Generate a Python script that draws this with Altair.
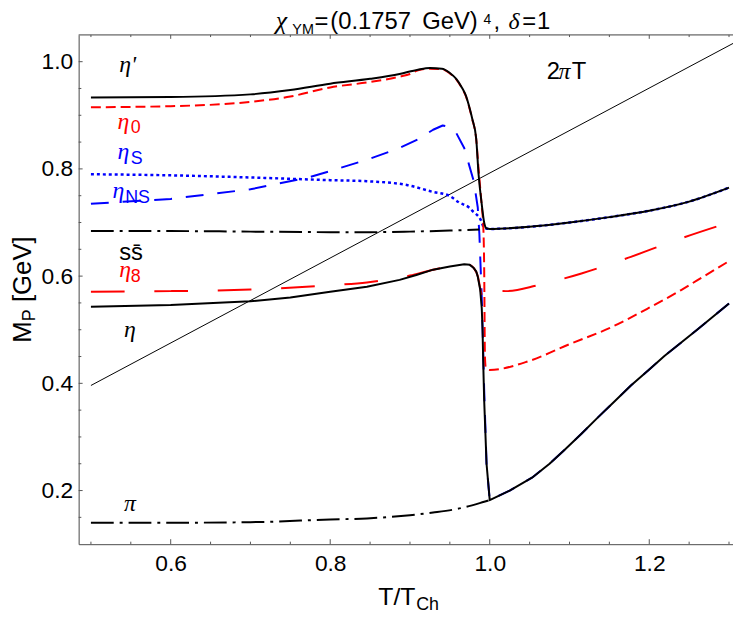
import altair as alt
import pandas as pd

# ---------------- data ----------------
x_etap = [0.5, 0.6, 0.7, 0.75, 0.8, 0.85, 0.887, 0.91, 0.925, 0.94, 0.95, 0.958, 0.965, 0.97,
          0.975, 0.978, 0.983, 0.986, 0.99, 0.993, 0.996, 1.0, 1.05, 1.1, 1.15, 1.2, 1.25, 1.3]
y_etap = [0.933, 0.934, 0.939, 0.947, 0.959, 0.968, 0.977, 0.985, 0.988, 0.987, 0.979, 0.968, 0.952, 0.937,
          0.912, 0.894, 0.857, 0.790, 0.734, 0.700, 0.689, 0.688, 0.692, 0.700, 0.710, 0.722, 0.739, 0.765]

x_eta0 = [0.5, 0.6, 0.7, 0.75, 0.8, 0.85, 0.887, 0.9, 0.91, 0.925, 0.94, 0.95, 0.958, 0.965, 0.97,
          0.975, 0.978, 0.983, 0.986, 0.99, 0.992, 0.993, 0.994, 0.995, 1.0, 1.05, 1.1, 1.15, 1.2, 1.24, 1.26, 1.3]
y_eta0 = [0.915, 0.917, 0.925, 0.935, 0.952, 0.962, 0.972, 0.977, 0.984, 0.987, 0.986, 0.978, 0.967, 0.951, 0.936,
          0.911, 0.893, 0.856, 0.800, 0.730, 0.690, 0.620, 0.450, 0.430, 0.425, 0.442, 0.473, 0.503, 0.541, 0.574, 0.592, 0.628]

x_etaS = [0.5, 0.6, 0.7, 0.77, 0.8, 0.846, 0.887, 0.91, 0.929, 0.941, 0.95, 0.958, 0.968, 0.974, 0.98,
          0.985, 0.987, 0.989, 0.990, 0.992, 0.993, 0.996, 1.0, 1.025, 1.053, 1.075, 1.094, 1.115, 1.136,
          1.157, 1.177, 1.2, 1.219, 1.26, 1.3]
y_etaS = [0.735, 0.744, 0.762, 0.783, 0.796, 0.817, 0.839, 0.855, 0.873, 0.881, 0.878, 0.867, 0.839, 0.808, 0.777,
          0.728, 0.679, 0.600, 0.560, 0.450, 0.390, 0.250, 0.182, 0.200, 0.224, 0.250, 0.276, 0.306, 0.337,
          0.367, 0.396, 0.426, 0.451, 0.500, 0.549]

x_etaNS = [0.5, 0.6, 0.7, 0.8, 0.846, 0.896, 0.929, 0.949, 0.962, 0.974, 0.978, 0.989, 0.993, 1.0,
           1.05, 1.1, 1.15, 1.2, 1.25, 1.3]
y_etaNS = [0.790, 0.788, 0.784, 0.779, 0.777, 0.770, 0.757, 0.750, 0.737, 0.728, 0.722, 0.704, 0.690, 0.688,
           0.692, 0.700, 0.710, 0.722, 0.739, 0.765]

x_ss = [0.5, 0.6, 0.7, 0.8, 0.85, 0.9, 0.95, 0.987]
y_ss = [0.684, 0.684, 0.683, 0.682, 0.682, 0.683, 0.685, 0.687]

x_eta8 = [0.5, 0.6, 0.7, 0.77, 0.8, 0.846, 0.87, 0.9, 0.929, 0.95, 0.968, 0.975, 0.98, 0.985,
          0.990, 0.993, 0.996, 1.0, 1.02, 1.06, 1.115, 1.177, 1.239, 1.3]
y_eta8 = [0.571, 0.572, 0.575, 0.580, 0.583, 0.588, 0.593, 0.601, 0.612, 0.618, 0.622, 0.621, 0.615, 0.600,
          0.565, 0.560, 0.577, 0.574, 0.572, 0.583, 0.605, 0.636, 0.670, 0.700]

x_eta = [0.5, 0.6, 0.7, 0.75, 0.8, 0.846, 0.887, 0.908, 0.929, 0.95, 0.968, 0.975, 0.98, 0.983, 0.985,
         0.988, 0.990, 0.991, 0.992, 0.993, 0.996, 1.0, 1.025, 1.053, 1.075, 1.094, 1.115, 1.136,
         1.157, 1.177, 1.2, 1.219, 1.26, 1.3]
y_eta = [0.543, 0.546, 0.553, 0.560, 0.571, 0.580, 0.593, 0.602, 0.612, 0.618, 0.622, 0.621, 0.615, 0.609, 0.599,
         0.575, 0.540, 0.500, 0.430, 0.370, 0.250, 0.182, 0.200, 0.224, 0.250, 0.276, 0.306, 0.337,
         0.367, 0.396, 0.426, 0.451, 0.500, 0.549]

x_pi = [0.5, 0.6, 0.7, 0.8, 0.846, 0.9, 0.929, 0.96, 0.993, 1.0]
y_pi = [0.140, 0.140, 0.141, 0.146, 0.148, 0.154, 0.159, 0.166, 0.179, 0.182]

x_2piT = [0.5, 1.305]
y_2piT = [0.396, 1.034]

x_major = [0.6, 0.8, 1.0, 1.2]
x_minor = [0.5, 0.55, 0.65, 0.7, 0.75, 0.85, 0.9, 0.95, 1.05, 1.1, 1.15, 1.25, 1.3]
y_major = [0.2, 0.4, 0.6, 0.8, 1.0]
y_minor = [0.15, 0.25, 0.3, 0.35, 0.45, 0.5, 0.55, 0.65, 0.7, 0.75, 0.85, 0.9, 0.95]

# curve labels
greek_t = ["η'", "η", "η", "η", "η", "η", "π", "π"]
greek_x = [0.5354, 0.5333, 0.5333, 0.5271, 0.5354, 0.5416, 0.5416, 1.0861]
greek_y = [0.9805, 0.8753, 0.8180, 0.7460, 0.5983, 0.4856, 0.1625, 0.9676]
greek_c = ["black", "red", "blue", "blue", "red", "black", "black", "black"]

sans_t = ["ss\u0304", "2", "T"]
sans_x = [0.5354, 1.0714, 1.1027]
sans_y = [0.6297, 0.9676, 0.9676]

sub_t = ["0", "S", "NS", "8"]
sub_x = [0.5499, 0.5499, 0.5429, 0.5499]
sub_y = [0.8666, 0.8088, 0.7368, 0.5891]
sub_c = ["red", "blue", "blue", "red"]

# ---------------- chart ----------------
W, H = 660.4, 514
RED, BLUE = "#ff0000", "#0000ff"
SANS, SERIF = "Liberation Sans", "Liberation Serif"

xs = alt.Scale(domain=[0.4846, 1.305], nice=False, zero=False)
ys = alt.Scale(domain=[0.1, 1.05], nice=False, zero=False)
xaxis = alt.Axis(values=x_major, format=".1f", title=None, grid=False, ticks=False, tickSize=0,
                 labelFontSize=23, labelFont=SANS, labelColor="black", labelPadding=8.5,
                 domainColor="#555", domainWidth=1)
yaxis = alt.Axis(values=y_major, format=".1f", title=None, grid=False, ticks=False, tickSize=0,
                 labelFontSize=23, labelFont=SANS, labelColor="black", labelPadding=6,
                 domainColor="#555", domainWidth=1)

X = alt.X("x:Q", scale=xs, axis=xaxis)
Y = alt.Y("y:Q", scale=ys, axis=yaxis)


def curve(xv, yv, color, width=2.0, dash=None, interp="monotone"):
    df = pd.DataFrame({"x": xv, "y": yv})
    kw = dict(color=color, strokeWidth=width, clip=True, strokeCap="butt", strokeJoin="round",
              interpolate=interp)
    if dash:
        kw["strokeDash"] = dash
    return alt.Chart(df).mark_line(**kw).encode(x=X, y=Y, order=alt.Order("x:Q"))


layers = [
    curve(x_2piT, y_2piT, "black", 1.0, interp="linear"),
    curve(x_etaNS, y_etaNS, BLUE, 2.5, [3, 3]),
    curve(x_etaS, y_etaS, BLUE, 2.0, [18, 14], interp="linear"),
    curve(x_eta8, y_eta8, RED, 2.0, [34, 30]),
    curve(x_eta0, y_eta0, RED, 2.0, [10, 5]),
    curve(x_ss, y_ss, "black", 2.0, [23, 6, 3, 6]),
    curve(x_pi, y_pi, "black", 2.0, [23, 6, 3, 6]),
    curve(x_etap, y_etap, "black", 2.0),
    curve(x_eta, y_eta, "black", 2.0, interp="linear"),
]

# inward ticks
TC = "#555"
def vt(vals, y0, y1):
    return alt.Chart(pd.DataFrame({"x": vals})).mark_rule(color=TC, strokeWidth=1).encode(
        x=X, y=alt.value(y0), y2=alt.value(y1))

def ht(vals, l):
    return alt.Chart(pd.DataFrame({"y": vals})).mark_rule(color=TC, strokeWidth=1).encode(
        y=Y, x=alt.value(0), x2=alt.value(l))

layers += [vt(x_major, H, H - 5), vt(x_minor, H, H - 2.5),
           vt(x_major, 0, 4), vt(x_minor, 0, 2.2),
           ht(y_major, 4), ht(y_minor, 2.7)]

# top frame line
dummy = pd.DataFrame({"a": [0]})
layers.append(alt.Chart(dummy).mark_rule(color=TC, strokeWidth=1).encode(
    x=alt.value(0), x2=alt.value(W), y=alt.value(0)))

# curve labels
gdf = pd.DataFrame({"x": greek_x, "y": greek_y, "t": greek_t, "c": greek_c})
layers.append(alt.Chart(gdf).mark_text(font=SERIF, fontStyle="italic", fontSize=24, align="left",
                                       baseline="alphabetic").encode(
    x=X, y=Y, text="t:N", color=alt.Color("c:N", scale=None)))
sdf = pd.DataFrame({"x": sans_x, "y": sans_y, "t": sans_t})
layers.append(alt.Chart(sdf).mark_text(font=SANS, fontSize=24, align="left", baseline="alphabetic",
                                       color="black").encode(x=X, y=Y, text="t:N"))
bdf = pd.DataFrame({"x": sub_x, "y": sub_y, "t": sub_t, "c": sub_c})
layers.append(alt.Chart(bdf).mark_text(font=SANS, fontSize=18, align="left", baseline="alphabetic").encode(
    x=X, y=Y, text="t:N", color=alt.Color("c:N", scale=None)))

# title, axis titles (rich text built from pieces)
def piece(text, px, py, size=24, font=SANS, style="normal", angle=None):
    kw = dict(text=text, font=font, fontSize=size, fontStyle=style, align="left",
              baseline="alphabetic", color="black")
    if angle is not None:
        kw["angle"] = angle
    return alt.Chart(dummy).mark_text(**kw).encode(x=alt.value(px), y=alt.value(py))

TB = -5.8  # title baseline relative to plot top
layers += [
    piece("χ", 199.0, TB, 26, SERIF, "italic"),
    piece("YM", 215.7, TB + 4.5, 14.5),
    piece("=", 238.0, TB, 24),
    piece("(0.1757", 254.0, TB, 24),
    piece("GeV)", 346.7, TB, 24),
    piece("4", 408.7, TB - 5.5, 14),
    piece(",", 418.7, TB, 24),
    piece("δ", 433.7, TB, 24, SERIF, "italic"),
    piece("=", 447.7, TB, 24),
    piece("1", 462.7, TB, 24),
    piece("M", -47.8, 310.7, 26, angle=270),
    piece("P", -43.8, 289.0, 18, angle=270),
    piece("[GeV]", -47.8, 269.7, 26, angle=270),
    piece("T/T", 302.4, 575.7, 25),
    piece("Ch", 340.7, 580.7, 18),
]

chart = alt.layer(*layers).properties(
    width=W, height=H,
    autosize=alt.AutoSizeParams(type="none"),
    padding={"left": 71.3, "top": 24.3, "right": 0, "bottom": 72},
).configure_view(stroke=None).configure(background="white")

chart.save("out.html", embed_options={"renderer": "svg", "actions": False})
